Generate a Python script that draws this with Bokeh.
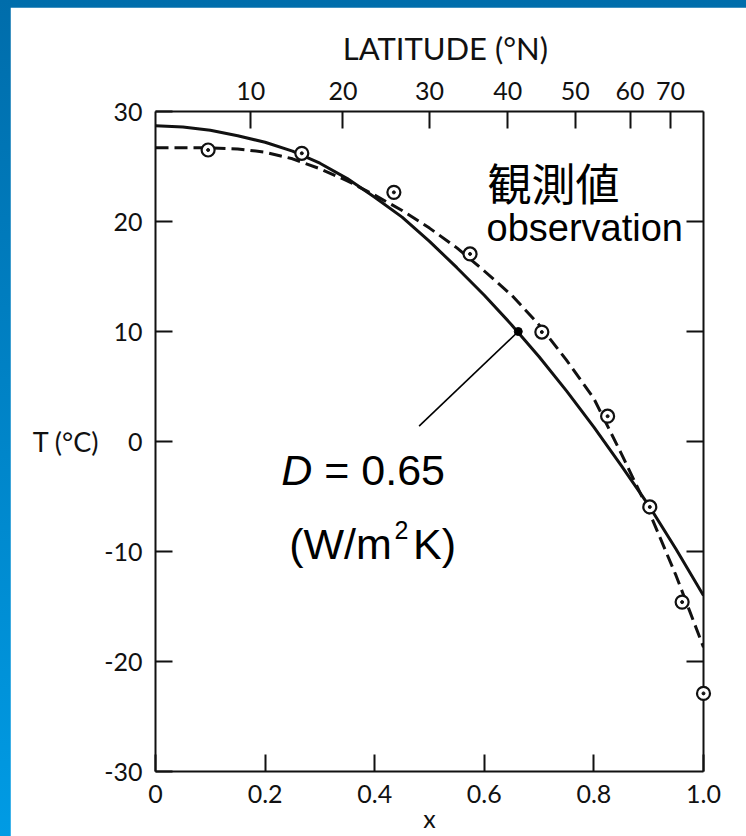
import numpy as np
from bokeh.plotting import figure
from bokeh.models import Range1d, LinearAxis, FixedTicker, Label
from bokeh.layouts import column
from bokeh.embed import file_html
from bokeh.resources import INLINE

# ---------------- data ----------------
obs_x = [0.096, 0.267, 0.435, 0.574, 0.705, 0.825, 0.902, 0.961, 1.0]
obs_T = [26.5, 26.2, 22.65, 17.05, 9.95, 2.3, -5.95, -14.6, -22.9]

curve_x = [0.0, 0.05, 0.10, 0.15, 0.20, 0.25, 0.30, 0.35, 0.40, 0.45, 0.50,
           0.55, 0.60, 0.65, 0.70, 0.75, 0.80, 0.85, 0.90, 0.95, 1.0]
obs_fit_T = [26.7, 26.7, 26.7, 26.6, 26.3, 25.7, 24.8, 23.7, 22.4, 21.0, 19.4,
             17.6, 15.5, 13.3, 10.6, 7.4, 3.9, -1.1, -6.3, -12.2, -18.7]
model_T = [28.7, 28.6, 28.3, 27.8, 27.2, 26.4, 25.3, 23.9, 22.2, 20.4, 18.2,
           15.8, 13.3, 10.6, 7.7, 4.6, 1.3, -2.2, -5.8, -9.8, -14.0]

leader_start = (0.662, 10.0)
leader_end = (0.481, 1.4)

y_ticks = [-30, -20, -10, 0, 10, 20, 30]
y_tick_labels = ["-30", "-20", "-10", "0", "10", "20", "30"]
y_inner_ticks = [-20, -10, 0, 10, 20]
x_ticks = [0.0, 0.2, 0.4, 0.6, 0.8, 1.0]
x_tick_labels = ["0", "0.2", "0.4", "0.6", "0.8", "1.0"]
lat_labels = [10, 20, 30, 40, 50, 60, 70]

# ---------------- figure ----------------
INK = "#111111"
SCAN_FONT = "Lato"

p = figure(width=736, height=829, output_backend="svg", toolbar_location=None,
           x_range=Range1d(0, 1), y_range=Range1d(-30, 30),
           x_axis_location=None, y_axis_location=None,
           min_border_left=145, min_border_right=43,
           min_border_top=104, min_border_bottom=65)
p.background_fill_color = "white"
p.border_fill_color = "white"
p.outline_line_color = None
p.grid.visible = False
p.margin = (7, 0, 0, 10)


def style_axis(ax, size="25px"):
    ax.axis_line_color = INK
    ax.axis_line_width = 2
    ax.major_tick_line_color = INK
    ax.major_tick_line_width = 2
    ax.major_tick_in = 17
    ax.major_tick_out = 0
    ax.minor_tick_line_color = None
    ax.major_label_text_font = SCAN_FONT
    ax.major_label_text_font_size = size
    ax.major_label_text_color = INK
    ax.axis_label_text_font = SCAN_FONT
    ax.axis_label_text_font_style = "normal"
    ax.axis_label_text_color = INK


# left axis
left = LinearAxis(ticker=FixedTicker(ticks=y_ticks),
                  major_label_overrides={t: s for t, s in zip(y_ticks, y_tick_labels)},
                  axis_label="T (°C)")
style_axis(left)
left.major_label_standoff = 13
left.axis_label_orientation = "horizontal"
left.axis_label_text_font_size = "27px"
left.axis_label_standoff = 2
p.add_layout(left, "left")

# right axis (ticks only)
right = LinearAxis(ticker=FixedTicker(ticks=y_inner_ticks))
style_axis(right)
right.major_label_text_font_size = "0px"
right.major_label_text_color = None
p.add_layout(right, "right")

# bottom axis
bottom = LinearAxis(ticker=FixedTicker(ticks=x_ticks),
                    major_label_overrides={t: s for t, s in zip(x_ticks, x_tick_labels)},
                    axis_label="x")
style_axis(bottom)
bottom.major_label_standoff = 13
bottom.axis_label_text_font_size = "25px"
bottom.axis_label_standoff = -3
p.add_layout(bottom, "below")

# top axis: latitude
lat_pos = [float(np.sin(np.radians(l))) for l in lat_labels]
top = LinearAxis(ticker=FixedTicker(ticks=lat_pos),
                 major_label_overrides={t: str(l) for t, l in zip(lat_pos, lat_labels)},
                 axis_label="\u00a0\u00a0\u00a0\u00a0LATITUDE (°N)")
style_axis(top)
top.major_label_standoff = 12
top.axis_label_text_font_size = "31px"
top.axis_label_standoff = 12
p.add_layout(top, "above")

# curves
p.line(curve_x, model_T, line_color=INK, line_width=3)
p.line(curve_x, obs_fit_T, line_color=INK, line_width=3, line_dash="13 6")

# observations (circle with a dot)
p.scatter(obs_x, obs_T, marker="circle", size=13, fill_color="white",
          line_color=INK, line_width=2.2, level="overlay")
p.scatter(obs_x, obs_T, marker="circle", size=3, fill_color=INK,
          line_color=INK, level="overlay")

# leader line for D
p.segment(x0=[leader_start[0]], y0=[leader_start[1]],
          x1=[leader_end[0]], y1=[leader_end[1]], line_color="black", line_width=1.6)
p.scatter([leader_start[0]], [leader_start[1]], marker="circle", size=8,
          fill_color="black", line_color="black")

# texts
def lab(x, y, text, size, font="Liberation Sans", style="normal", align="left",
        baseline="alphabetic", color="black"):
    p.add_layout(Label(x=x, y=y, text=text, text_font=font,
                       text_font_size=size, text_font_style=style,
                       text_align=align, text_baseline=baseline, text_color=color))

lab(0.606, 23.6, "観測値", "44px", font="Noto Sans CJK JP")
lab(0.604, 19.4, "observation", "38px")
lab(0.2295, -2.6, "D", "43px", style="italic")
lab(0.308, -2.6, "= 0.65", "43px")
lab(0.244, -9.3, "(W/m", "43px")
lab(0.436, -8.0, "2", "25px")
lab(0.47, -9.3, "K)", "43px")

layout = column(p, styles={"background": "linear-gradient(to bottom, #006dab, #009be4)"})

open("out.html", "w").write(file_html(layout, INLINE))
